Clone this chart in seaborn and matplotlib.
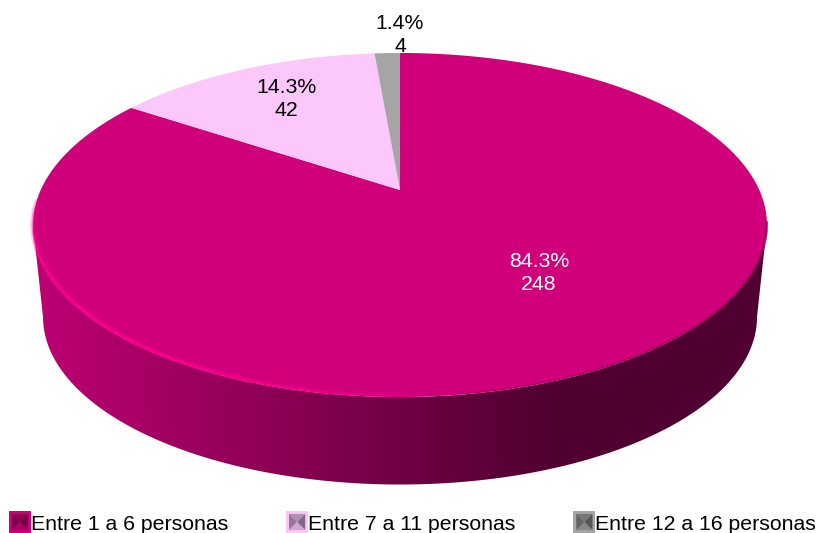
# -*- coding: utf-8 -*-
import numpy as np
import pandas as pd
import seaborn as sns
import matplotlib
matplotlib.use('Agg')
import matplotlib.pyplot as plt
from matplotlib import transforms as mtrans
from matplotlib.colors import LinearSegmentedColormap, to_rgb
from matplotlib.collections import LineCollection
from matplotlib.legend_handler import HandlerBase
from matplotlib.patches import Patch, PathPatch, Polygon, Rectangle
from matplotlib.path import Path

categorias = ['Entre 1 a 6 personas', 'Entre 7 a 11 personas', 'Entre 12 a 16 personas']
valores = [248, 42, 4]
porcentajes = ['84.3%', '14.3%', '1.4%']

colores = ['#D0007B', '#FCC8FC', '#A5A5A5']
color_texto = ['white', 'black', 'black']
pos_texto = [(539, 273), (286, 99), (400, 35)]

df = pd.DataFrame({'categoria': categorias, 'valor': valores, 'pct': porcentajes})

sns.set_theme(style='white')
plt.rcParams['font.family'] = ['Liberation Sans', 'DejaVu Sans']
plt.rcParams['text.color'] = 'black'


# disco en perspectiva: circulo unidad -> pixeles de la figura
class Perspectiva(mtrans.Transform):
    input_dims = 2
    output_dims = 2
    has_inverse = False

    def __init__(self, cx, cy, a, b, k):
        super().__init__()
        self.cx, self.cy, self.a, self.b, self.k = cx, cy, a, b, k

    def transform_non_affine(self, values):
        values = np.asarray(values, dtype=float)
        w = 1 + self.k * values[:, 1]
        return np.column_stack([self.cx + self.a * values[:, 0] / w,
                                self.cy - self.b * values[:, 1] / w])

    def transform_path_non_affine(self, path):
        # aplanar las curvas antes de proyectar
        esc = mtrans.Affine2D().scale(2000)
        poly = path.transformed(esc).to_polygons(closed_only=True)[0] / 2000
        return Path(self.transform_non_affine(poly), closed=True)


K = 0.2035
arriba = Perspectiva(400, 190, 359.3, 164.9, K)
abajo = Perspectiva(400, 283, 349.5, 160.5, K)

fig = plt.figure(figsize=(8.19, 5.33), dpi=100)
ax = fig.add_axes([0, 0, 1, 1])

wedges, _ = ax.pie(df['valor'], colors=colores, startangle=90, counterclock=False,
                   wedgeprops={'linewidth': 0})
for w in wedges:
    w.set_transform(arriba + ax.transData)
    w.set_zorder(3)

for (_, fila), pos, c in zip(df.iterrows(), pos_texto, color_texto):
    ax.text(pos[0], pos[1], f"{fila['pct']}\n{fila['valor']}", color=c, fontsize=15.3,
            ha='center', va='center', linespacing=1.3, zorder=5)

# pared lateral con degradado, de lado a lado por los puntos mas anchos
t = np.linspace(np.pi + np.arcsin(K), 2 * np.pi - np.arcsin(K), 300)
circ = np.column_stack([np.cos(t), np.sin(t)])
borde_sup = arriba.transform_non_affine(circ)
borde_inf = abajo.transform_non_affine(circ)
pared = Path(np.vstack([borde_sup, borde_inf[::-1], borde_sup[:1]]), closed=True)
cmap = LinearSegmentedColormap.from_list(
    'pared', [(0, '#BE0073'), (0.35, '#94005A'), (0.68, '#6A003F'), (0.9, '#500030'), (1, '#500030')])
img = ax.imshow(np.linspace(0, 1, 256).reshape(1, -1), cmap=cmap, extent=(32, 612, 500, 200),
                aspect='auto', zorder=1)
# tramo oscuro constante a la derecha
img2 = ax.imshow([[1.0]], cmap=cmap, vmin=0, vmax=1, extent=(611, 790, 500, 200), aspect='auto', zorder=1)
clip = PathPatch(pared, transform=ax.transData, facecolor='none', edgecolor='none')
ax.add_patch(clip)
img.set_clip_path(clip)
img2.set_clip_path(clip)

# brillo del borde izquierdo-inferior
ts = np.linspace(np.pi * 1.02, np.pi * 1.52, 120)
pts = arriba.transform_non_affine(np.column_stack([np.cos(ts), np.sin(ts)])) + [0, -1.4]
segs = np.stack([pts[:-1], pts[1:]], axis=1)
alfa = np.clip(np.sin(np.linspace(0.1, np.pi, len(segs))) ** 0.7, 0, 1)
ax.add_collection(LineCollection(segs, colors=[(1.0, 0.0, 0.56, a * 0.35) for a in alfa],
                                 linewidths=4.2, zorder=4))
ax.add_collection(LineCollection(segs, colors=[(1.0, 0.0, 0.56, a * 0.8) for a in alfa],
                                 linewidths=2.0, zorder=4))

# sombra suave del borde derecho-inferior
ts = np.linspace(np.pi * 1.55, np.pi * 1.94, 120)
pts = arriba.transform_non_affine(np.column_stack([np.cos(ts), np.sin(ts)])) + [0, -0.8]
segs = np.stack([pts[:-1], pts[1:]], axis=1)
alfa = np.linspace(0.15, 0.75, len(segs))
rgba = np.array([(0.45, 0.0, 0.27, a) for a in alfa])
ax.add_collection(LineCollection(segs, colors=rgba, linewidths=1.6, zorder=4))

ax.set_aspect('auto')
ax.set_xlim(0, 819)
ax.set_ylim(533, 0)
ax.axis('off')


# clave de leyenda biselada
class ClaveBisel(HandlerBase):
    def create_artists(self, legend, orig, x0, y0, width, height, fontsize, trans):
        col = np.array(to_rgb(orig.get_facecolor()))
        y0 = y0 + height / 2 - width / 2 - 3.2
        height = width
        s = 0.13 * width
        xa, xb = x0 + s, x0 + width - s
        ya, yb = y0 + s, y0 + height - s
        xm, ym = x0 + width / 2, y0 + height / 2
        arts = [Rectangle((x0, y0), width, height, facecolor=col, edgecolor='none')]
        caras = [([(xa, yb), (xb, yb), (xm, ym)], 0.72),
                 ([(xa, ya), (xa, yb), (xm, ym)], 0.6),
                 ([(xb, ya), (xb, yb), (xm, ym)], 0.52),
                 ([(xa, ya), (xb, ya), (xm, ym)], 0.82)]
        for pts, f in caras:
            arts.append(Polygon(pts, closed=True, facecolor=col * f, edgecolor='none'))
        for a in arts:
            a.set_transform(trans)
        return arts


handles = [Patch(facecolor=c, label=l) for c, l in zip(colores, categorias)]
ax.legend(handles=handles, handler_map={Patch: ClaveBisel()}, ncol=3, frameon=False,
          loc='lower left', bbox_to_anchor=(9 / 819, -1 / 533), borderaxespad=0, borderpad=0,
          fontsize=15.3, handlelength=1.03, handleheight=1.05, handletextpad=0,
          columnspacing=2.73)

fig.savefig('out.png', dpi=100)
